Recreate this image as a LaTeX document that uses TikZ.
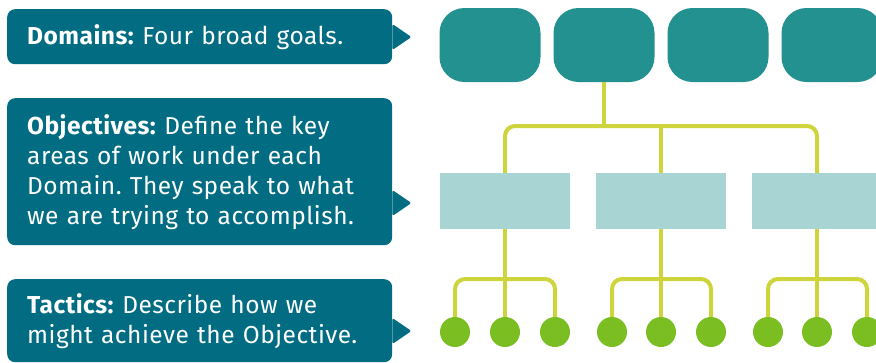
\documentclass[tikz,border=0pt]{standalone}
\usepackage{fontspec}
\setmainfont{Fira Sans}[LetterSpace=2]
\usepackage{tikz}

\definecolor{calloutblue}{HTML}{016C82}
\definecolor{domainteal}{HTML}{23918F}
\definecolor{objpale}{HTML}{A8D4D3}
\definecolor{linklime}{HTML}{CDD43C}
\definecolor{tacgreen}{HTML}{7BBE22}

\tikzset{
    callout/.style={fill=calloutblue, text=white, rounded corners=8, anchor=north west,
        minimum width=385, inner xsep=20, text width=345, align=left,
        font=\fontsize{24.5}{30}\selectfont\frenchspacing},
    domainbox/.style={fill=domainteal, rounded corners=25, minimum width=101, minimum height=74},
    objbox/.style={fill=objpale, minimum width=130, minimum height=56},
    tacdot/.style={circle, fill=tacgreen, minimum size=30, inner sep=0},
    link/.style={draw=linklime, line width=4},
}

\begin{document}
\begin{tikzpicture}[x=1pt, y=-1pt]
    \useasboundingbox (0,0) rectangle (876,362) ;
    \clip (0,0) rectangle (876,362) ;

    % text boxes on the left
    \node [callout, minimum height=55] (domains) at (7,9) {\textbf{Domains:} Four broad goals.} ;
    \node [callout, minimum height=147] (objectives) at (7,98) {\textbf{Objectives:} Define the key\\ areas of work under each\\ Domain. They speak to what\\ we are trying to accomplish.} ;
    \node [callout, minimum height=83] (tactics) at (7,279) {\textbf{Tactics:} Describe how we\\ might achieve the Objective.} ;
    \fill [calloutblue, rounded corners=2] (domains.north east) ++(0,15) -- ++(19,13) -- ++(-19,13) -- cycle ;
    \fill [calloutblue, rounded corners=2] (objectives.north east) ++(0,92) -- ++(19,13) -- ++(-19,13) -- cycle ;
    \fill [calloutblue, rounded corners=2] (tactics.north east) ++(0,39) -- ++(19,13) -- ++(-19,13) -- cycle ;

    % domains
    \node [domainbox] (dom1) at (490,45) {} ;
    \node [domainbox] (dom2) at (604,45) {} ;
    \node [domainbox] (dom3) at (718,45) {} ;
    \node [domainbox] (dom4) at (832,45) {} ;

    % objectives
    \node [objbox] (obj1) at (505,201) {} ;
    \node [objbox] (obj2) at (661,201) {} ;
    \node [objbox] (obj3) at (817,201) {} ;

    % tactics
    \node [tacdot] (tac1) at (455,332) {} ;
    \node [tacdot] (tac2) at (505,332) {} ;
    \node [tacdot] (tac3) at (555,332) {} ;
    \node [tacdot] (tac4) at (612,332) {} ;
    \node [tacdot] (tac5) at (661,332) {} ;
    \node [tacdot] (tac6) at (711,332) {} ;
    \node [tacdot] (tac7) at (768,332) {} ;
    \node [tacdot] (tac8) at (817,332) {} ;
    \node [tacdot] (tac9) at (867,332) {} ;

    % branching lines
    \coordinate (objbus) at (604,126) ;
    \coordinate (bus1) at (505,279) ;
    \coordinate (bus2) at (661,279) ;
    \coordinate (bus3) at (817,279) ;

    \draw [link] (dom2.south) -- (objbus) ;
    \draw [link, rounded corners=10] (obj1.north) |- (objbus) -| (obj3.north) ;
    \draw [link] (obj2.north) -- (obj2.north |- objbus) ;

    \draw [link, rounded corners=10] (tac1.north) |- (bus1) -| (tac3.north) ;
    \draw [link] (obj1.south) -- (tac2.north) ;
    \draw [link, rounded corners=10] (tac4.north) |- (bus2) -| (tac6.north) ;
    \draw [link] (obj2.south) -- (tac5.north) ;
    \draw [link, rounded corners=10] (tac7.north) |- (bus3) -| (tac9.north) ;
    \draw [link] (obj3.south) -- (tac8.north) ;
\end{tikzpicture}
\end{document}
